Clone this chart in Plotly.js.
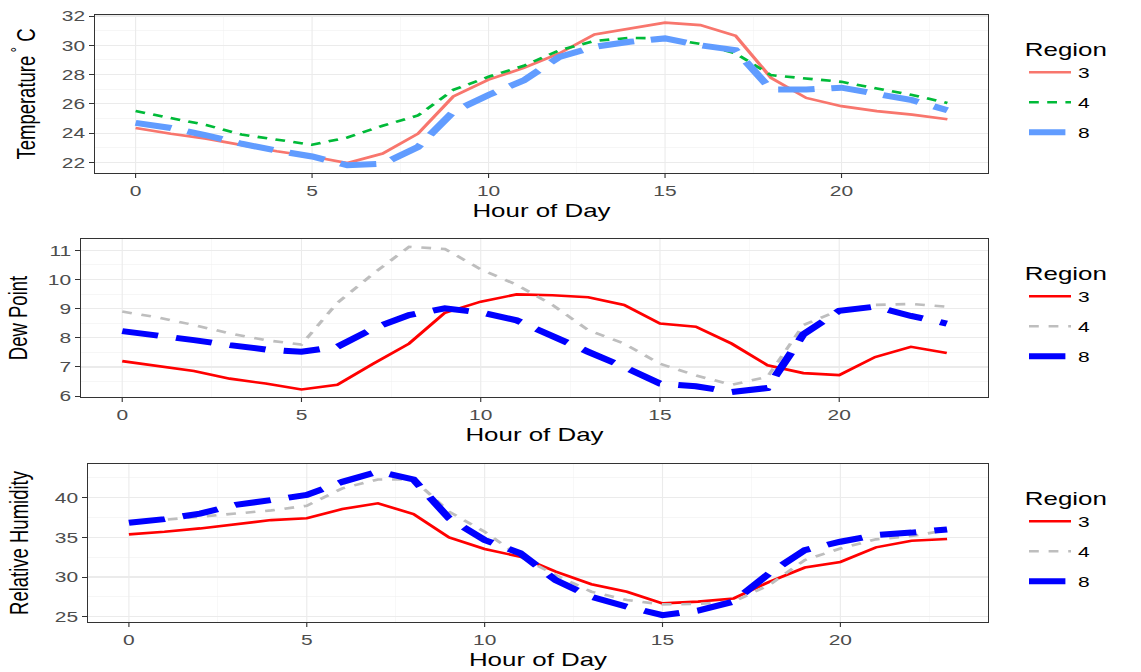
<!DOCTYPE html>
<html>
<head>
<meta charset="utf-8">
<script src="https://cdn.plot.ly/plotly-3.0.1.min.js"></script>
<style>
  html, body { margin: 0; padding: 0; background: #ffffff; overflow: hidden; }
  #wrap { width: 1141px; height: 672px; overflow: hidden; }
  #chart { width: 815px; height: 672px; transform-origin: 0 0; transform: scaleX(1.4); }
</style>
</head>
<body>
<div id="wrap"><div id="chart"></div></div>
<script>
// ---- data ----
const hours = [0,1,2,3,4,5,6,7,8,9,10,11,12,13,14,15,16,17,18,19,20,21,22,23];
const regions = ["3", "4", "8"];

const tempR3 = [24.35,23.95,23.62,23.2,22.75,22.4,21.95,22.6,23.96,26.5,27.65,28.45,29.44,30.74,31.15,31.55,31.38,30.65,27.78,26.4,25.84,25.5,25.26,24.95];
const tempR4 = [25.5,25.0,24.55,23.9,23.55,23.2,23.7,24.5,25.2,26.95,27.85,28.6,29.65,30.3,30.5,30.47,30.1,29.44,27.96,27.73,27.5,27.05,26.6,26.06];
const tempR8 = [24.7,24.35,23.85,23.27,22.8,22.4,21.8,21.9,23.05,25.45,26.6,27.6,29.2,29.9,30.24,30.47,30.0,29.67,26.98,26.98,27.1,26.7,26.25,25.56];

const dewR3 = [7.2,7.02,6.86,6.6,6.43,6.23,6.39,7.11,7.8,8.86,9.24,9.49,9.46,9.39,9.13,8.49,8.38,7.8,7.06,6.79,6.72,7.34,7.69,7.48];
const dewR4 = [8.9,8.7,8.44,8.15,7.92,7.77,9.2,10.2,11.12,11.05,10.35,9.82,9.13,8.26,7.8,7.11,6.71,6.39,6.66,8.44,8.95,9.13,9.16,9.07];
const dewR8 = [8.23,8.09,7.92,7.75,7.6,7.52,7.69,8.32,8.78,9.01,8.87,8.6,8.03,7.52,7.0,6.43,6.34,6.14,6.28,8.12,8.93,9.07,8.75,8.49];

const rhR3 = [35.38,35.7,36.13,36.68,37.18,37.4,38.57,39.29,37.94,35.0,33.53,32.56,30.67,29.1,28.15,26.68,26.9,27.3,29.4,31.2,31.9,33.74,34.58,34.8];
const rhR4 = [36.85,37.18,37.6,38.0,38.4,38.99,41.18,42.3,42.3,38.24,35.7,32.56,30.25,28.15,27.1,26.55,26.6,26.9,29.0,32.14,33.6,34.75,35.17,35.9];
const rhR8 = [36.85,37.3,38.0,39.1,39.7,40.34,42.0,43.28,42.3,37.4,34.66,33.0,29.6,27.5,26.26,25.2,25.76,26.9,30.46,33.4,34.45,35.3,35.6,36.0];

const xTicks = [0,5,10,15,20];
const tempTicks = [22,24,26,28,30,32];
const dewTicks = [6,7,8,9,10,11];
const rhTicks = [25,30,35,40];

// ---- styles ----
const pal1 = ["#F8766D", "#00BA38", "#619CFF"];
const pal2 = ["#FF0000", "#BEBEBE", "#0000FF"];
const widths = [2.6, 2.6, 6];
const dashes1 = ["solid", "7px,6px", "26px,12px"];
const dashes2 = ["solid", "7px,7px", "26px,13px"];

function mk(y, i, pal, dashes, xa, ya, leg, grp) {
  return {
    x: hours, y: y, type: "scatter", mode: "lines",
    name: regions[i], xaxis: xa, yaxis: ya, legend: leg,
    legendgroup: grp + i,
    line: { color: pal[i], width: widths[i], dash: dashes[i] },
    hoverinfo: "x+y+name"
  };
}

const traces = [
  mk(tempR3, 0, pal1, dashes1, "x", "y", "legend", "a"),
  mk(tempR4, 1, pal1, dashes1, "x", "y", "legend", "a"),
  mk(tempR8, 2, pal1, dashes1, "x", "y", "legend", "a"),
  mk(dewR3, 0, pal2, dashes2, "x2", "y2", "legend2", "b"),
  mk(dewR4, 1, pal2, dashes2, "x2", "y2", "legend2", "b"),
  mk(dewR8, 2, pal2, dashes2, "x2", "y2", "legend2", "b"),
  mk(rhR3, 0, pal2, dashes2, "x3", "y3", "legend3", "c"),
  mk(rhR4, 1, pal2, dashes2, "x3", "y3", "legend3", "c"),
  mk(rhR8, 2, pal2, dashes2, "x3", "y3", "legend3", "c")
];

const W = 1141, H = 672;
const FONT = "Liberation Sans, Arial, Helvetica, sans-serif";
const tickFont = { family: FONT, size: 15, color: "#4D4D4D" };
const titleFont = { family: FONT, size: 18.5, color: "#000000" };

function xaxis(l, r, anchor) {
  return {
    domain: [l / W, r / W], anchor: anchor, range: [-1.15, 24.15],
    tickvals: xTicks, ticktext: xTicks.map(String),
    ticks: "outside", ticklen: 4, tickwidth: 0.8, tickcolor: "#333333",
    tickfont: tickFont,
    showgrid: true, gridcolor: "#EBEBEB", gridwidth: 0.8,
    minor: { tickvals: [2.5, 7.5, 12.5, 17.5, 22.5], showgrid: true, gridcolor: "#F0F0F0", gridwidth: 0.4, ticks: "" },
    showline: true, linecolor: "#333333", linewidth: 1, mirror: true,
    zeroline: false, automargin: false,
    title: { text: "Hour of Day", font: titleFont, standoff: 6 }
  };
}
function yaxis(t, b, anchor, range, ticks, minorVals, title, standoff) {
  return {
    domain: [1 - b / H, 1 - t / H], anchor: anchor, range: range,
    tickvals: ticks, ticktext: ticks.map(String),
    ticks: "outside", ticklen: 3, tickwidth: 1, tickcolor: "#333333",
    tickfont: tickFont,
    showgrid: true, gridcolor: "#EBEBEB", gridwidth: 1.1,
    minor: { tickvals: minorVals, showgrid: true, gridcolor: "#F0F0F0", gridwidth: 0.5, ticks: "" },
    showline: true, linecolor: "#333333", linewidth: 1, mirror: true,
    zeroline: false, automargin: false,
    title: { text: title, font: titleFont, standoff: standoff }
  };
}

function legend(topPx) {
  return {
    x: 1022 / W, xanchor: "left", y: 1 - topPx / H, yanchor: "top",
    bgcolor: "rgba(255,255,255,0)", borderwidth: 0,
    title: { text: "Region", font: { family: FONT, size: 18.5, color: "#000000" } },
    font: { family: FONT, size: 15, color: "#000000" },
    tracegroupgap: 7.5, traceorder: "grouped"
  };
}

const layout = {
  width: 815, height: H,
  margin: { l: 0, r: 0, t: 0, b: 0 },
  paper_bgcolor: "#ffffff", plot_bgcolor: "#ffffff",
  showlegend: true,
  xaxis: xaxis(95, 988, "y"),
  yaxis: yaxis(15, 173, "x", [21.27, 32.07], tempTicks, [23, 25, 27, 29, 31], "Temperature<sup> °</sup> C", 13.5),
  xaxis2: xaxis(81, 988, "y2"),
  yaxis2: yaxis(239, 397, "x2", [5.97, 11.39], dewTicks, [6.5, 7.5, 8.5, 9.5, 10.5], "Dew Point", 9),
  xaxis3: xaxis(88, 988, "y3"),
  yaxis3: yaxis(464, 622, "x3", [24.33, 44.25], rhTicks, [27.5, 32.5, 37.5, 42.5], "Relative Humidity", 13),
  legend: legend(32),
  legend2: legend(256),
  legend3: legend(481)
};

Plotly.newPlot("chart", traces, layout, { displayModeBar: false, staticPlot: true });
</script>
</body>
</html>
